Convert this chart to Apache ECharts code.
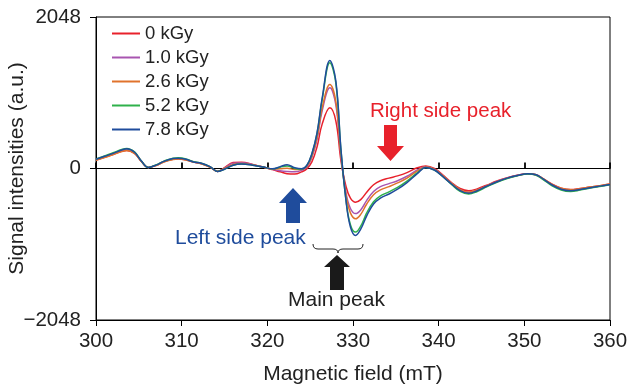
<!DOCTYPE html>
<html>
<head>
<meta charset="utf-8">
<script src="https://cdn.jsdelivr.net/npm/echarts@6/dist/echarts.min.js"></script>
<style>
  html, body { margin: 0; padding: 0; background: #fff; }
  #chart { width: 627px; height: 385px; }
</style>
</head>
<body>
<div id="chart"></div>
<script>
// magnetic field (mT)
var field = [300, 301, 302, 303, 303.6, 304.5, 305.3, 306.1, 307, 308, 309, 309.6, 310.5, 311.3, 312.3, 313.3, 314.2, 315, 316, 317, 318.3, 319.5, 320.6, 321.5, 322.3, 323.2, 324, 324.6, 325.2, 325.8, 326.4, 327.3, 328, 328.6, 329.2, 329.7, 330.3, 330.9, 331.6, 332.4, 333.2, 334.2, 335.2, 336.3, 337.5, 338.5, 339.5, 340.5, 341.5, 342.5, 343.5, 344.5, 345.6, 346.8, 348, 349.2, 350.4, 351.3, 352.2, 353.2, 354.3, 355.4, 356.5, 357.7, 359, 360];

var dose0 = [115, 150, 190, 232, 245, 205, 95, 15, 40, 95, 125, 130, 118, 90, 65, 20, -40, 10, 80, 85, 55, 20, -15, -45, -70, -75, -45, -5, 90, 290, 600, 820, 640, 100, -250, -400, -455, -420, -320, -220, -165, -130, -100, -55, 10, 35, 0, -90, -190, -270, -300, -275, -225, -170, -125, -90, -70, -85, -140, -210, -265, -285, -270, -250, -230, -210];
var dose10 = [118, 155, 195, 238, 252, 210, 97, 15, 42, 97, 128, 133, 120, 90, 66, 22, -40, 5, 70, 78, 52, 20, -12, -30, -40, -45, -25, 15, 150, 390, 780, 1090, 860, 160, -340, -540, -610, -560, -430, -310, -245, -205, -165, -105, -20, 25, -10, -100, -200, -285, -320, -290, -235, -175, -128, -92, -72, -85, -145, -220, -275, -295, -280, -258, -235, -215];
var dose26 = [112, 148, 188, 230, 245, 205, 95, 15, 40, 92, 122, 127, 115, 88, 65, 20, -38, 0, 55, 68, 48, 20, -8, -5, 5, -15, -15, 25, 170, 420, 820, 1135, 900, 180, -370, -600, -680, -620, -480, -355, -290, -245, -195, -130, -35, 20, -12, -100, -200, -285, -320, -290, -235, -178, -130, -95, -72, -82, -138, -212, -268, -288, -272, -250, -228, -208];
var dose52 = [128, 170, 212, 258, 272, 225, 102, 15, 48, 103, 140, 145, 130, 94, 72, 26, -40, -10, 45, 60, 45, 20, -5, 18, 35, 0, -8, 38, 195, 470, 930, 1430, 1150, 240, -440, -760, -860, -780, -600, -450, -370, -315, -255, -170, -60, 15, -20, -112, -215, -310, -345, -310, -248, -185, -135, -98, -75, -88, -150, -230, -290, -310, -292, -265, -240, -220];
var dose78 = [124, 165, 205, 250, 268, 220, 100, 15, 45, 100, 135, 140, 125, 90, 70, 25, -40, -10, 45, 60, 45, 20, -5, 25, 50, 10, -5, 40, 200, 480, 950, 1460, 1180, 250, -450, -790, -905, -820, -640, -480, -400, -345, -280, -190, -70, 15, -20, -110, -210, -300, -335, -300, -240, -180, -130, -95, -70, -80, -140, -220, -280, -300, -285, -260, -235, -215];

var seriesNames = ['0 kGy', '1.0 kGy', '2.6 kGy', '5.2 kGy', '7.8 kGy'];
var seriesValues = [dose0, dose10, dose26, dose52, dose78];
var colors = ['#e8212b', '#a855b0', '#e0732c', '#2fb14b', '#1f4c9c'];

var xTicks = [300, 310, 320, 330, 340, 350, 360];
var yTicks = [-2048, 0, 2048];

var font = 'Liberation Sans, Arial, Helvetica, sans-serif';

function pairs(vals) {
  var out = [];
  for (var i = 0; i < field.length; i++) out.push([field[i], vals[i]]);
  return out;
}

var series = seriesNames.map(function (name, i) {
  return {
    name: name,
    type: 'line',
    xAxisIndex: 0,
    data: pairs(seriesValues[i]),
    showSymbol: false,
    smooth: 0.4,
    lineStyle: { width: 1.5, color: colors[i] },
    itemStyle: { color: colors[i] },
    z: 3 + i
  };
});

var braceStyle = { stroke: '#222', lineWidth: 1, fill: null };

var myChart = echarts.init(document.getElementById('chart'));
var option = {
  animation: false,
  textStyle: { fontFamily: font },
  grid: {
    left: 96, right: 17, top: 17, bottom: 65,
    outerBoundsMode: 'none',
    show: true, borderColor: '#000', borderWidth: 1
  },
  legend: {
    data: seriesNames,
    orient: 'vertical',
    left: 107, top: 19,
    itemWidth: 28, itemHeight: 2,
    itemGap: 5,
    icon: 'rect',
    textStyle: { fontSize: 18.5, color: '#222', fontFamily: font, lineHeight: 18 }
  },
  xAxis: [
    {
      type: 'value', min: xTicks[0], max: xTicks[xTicks.length - 1], interval: 10,
      position: 'bottom',
      name: 'Magnetic field (mT)', nameLocation: 'middle', nameGap: 44,
      nameMoveOverlap: false,
      nameTextStyle: { fontSize: 21, color: '#222', fontFamily: font },
      axisLine: { onZero: false, lineStyle: { color: '#000', width: 1 } },
      axisTick: { inside: false, length: 6, lineStyle: { color: '#000' } },
      axisLabel: { fontSize: 20.5, color: '#222', margin: 11 },
      splitLine: { show: false }
    },
    {
      type: 'value', min: xTicks[0], max: xTicks[xTicks.length - 1], interval: 10,
      position: 'bottom',
      axisLine: { onZero: true, lineStyle: { color: '#000', width: 1.2 } },
      axisTick: { inside: true, length: 6, lineStyle: { color: '#000', width: 1.8 } },
      axisLabel: { show: false },
      splitLine: { show: false }
    }
  ],
  yAxis: {
    type: 'value', min: yTicks[0], max: yTicks[yTicks.length - 1], interval: 2048,
    name: 'Signal intensities (a.u.)', nameLocation: 'middle', nameGap: 68,
    nameMoveOverlap: false,
    nameTextStyle: { fontSize: 21, color: '#222', fontFamily: font },
    axisLine: { show: true, lineStyle: { color: '#000', width: 1 } },
    axisTick: { show: true, inside: false, length: 6, lineStyle: { color: '#000' } },
    axisLabel: {
      fontSize: 20.5, color: '#222', margin: 15,
      formatter: function (v) { return v < 0 ? '\u2212' + Math.abs(v) : String(v); }
    },
    splitLine: { show: false }
  },
  graphic: [
    // right side peak
    { type: 'text', x: 370, y: 101, style: { text: 'Right side peak', fill: '#e8212b', fontSize: 20.5, fontFamily: font } },
    { type: 'polygon', shape: { points: [[384, 125], [397, 125], [397, 146], [404, 146], [390.5, 161], [377, 146], [384, 146]] }, style: { fill: '#e8212b' } },
    // left side peak
    { type: 'polygon', shape: { points: [[293, 188], [307, 203], [300, 203], [300, 223], [286, 223], [286, 203], [279, 203]] }, style: { fill: '#1f4c9c' } },
    { type: 'text', x: 175, y: 228, style: { text: 'Left side peak', fill: '#1f4c9c', fontSize: 21, fontFamily: font } },
    // main peak brace
    { type: 'bezierCurve', shape: { x1: 313, y1: 244, x2: 318, y2: 249, cpx1: 313, cpy1: 249 }, style: braceStyle },
    { type: 'line', shape: { x1: 318, y1: 249, x2: 333, y2: 249 }, style: braceStyle },
    { type: 'bezierCurve', shape: { x1: 333, y1: 249, x2: 338, y2: 253, cpx1: 338, cpy1: 249 }, style: braceStyle },
    { type: 'bezierCurve', shape: { x1: 338, y1: 253, x2: 343, y2: 249, cpx1: 338, cpy1: 249 }, style: braceStyle },
    { type: 'line', shape: { x1: 343, y1: 249, x2: 358, y2: 249 }, style: braceStyle },
    { type: 'bezierCurve', shape: { x1: 358, y1: 249, x2: 363, y2: 244, cpx1: 363, cpy1: 249 }, style: braceStyle },
    { type: 'polygon', shape: { points: [[337, 255], [350, 267], [344, 267], [344, 290], [330, 290], [330, 267], [324, 267]] }, style: { fill: '#1a1a1a' } },
    { type: 'text', x: 288, y: 290, style: { text: 'Main peak', fill: '#222', fontSize: 21, fontFamily: font } }
  ],
  series: series
};
myChart.setOption(option);
window.addEventListener('resize', myChart.resize);
</script>
</body>
</html>
